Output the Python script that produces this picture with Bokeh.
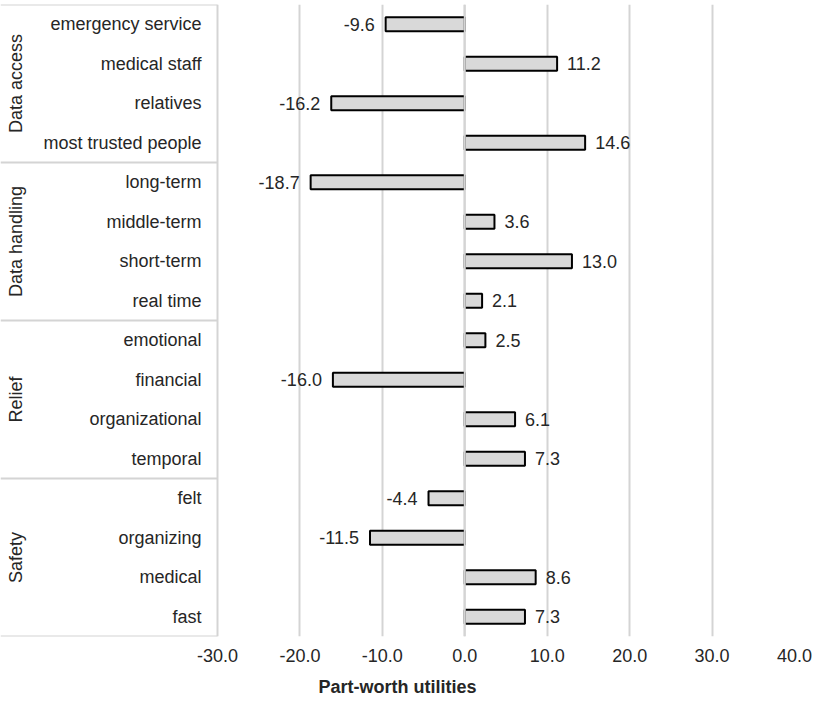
import math
from bokeh.plotting import figure
from bokeh.models import Range1d, FixedTicker, NumeralTickFormatter, ColumnDataSource, Span
from bokeh.core.properties import value
from bokeh.embed import file_html
from bokeh.resources import INLINE

# ---- data ----
groups = ["Data access", "Data handling", "Relief", "Safety"]
levels = [
    "emergency service", "medical staff", "relatives", "most trusted people",
    "long-term", "middle-term", "short-term", "real time",
    "emotional", "financial", "organizational", "temporal",
    "felt", "organizing", "medical", "fast",
]
utilities = [-9.6, 11.2, -16.2, 14.6,
             -18.7, 3.6, 13.0, 2.1,
             2.5, -16.0, 6.1, 7.3,
             -4.4, -11.5, 8.6, 7.3]
level_group = [0]*4 + [1]*4 + [2]*4 + [3]*4
x_ticks = [-30, -20, -10, 0, 10, 20, 30, 40]
x_title = "Part-worth utilities"

FONT = "Liberation Sans"
TXT = "#262626"
GRID = "#d4d4d4"
FS = "18px"

W, H = 813, 699
left_px, right_px = 217, 794          # canvas x of -30 and 40
px_per_unit = (right_px - left_px) / 70.0
x_start = -30 - left_px / px_per_unit

p = figure(width=W, height=H, output_backend="svg", toolbar_location=None,
           x_range=Range1d(x_start, 40), y_range=Range1d(16, 0),
           y_axis_location=None,
           min_border_left=0, min_border_right=W - right_px,
           min_border_top=4, min_border_bottom=61)
p.outline_line_color = None
p.background_fill_color = "white"
p.border_fill_color = "white"

ax = p.xaxis[0]
ax.ticker = FixedTicker(ticks=x_ticks)
ax.formatter = NumeralTickFormatter(format="0.0")
ax.axis_line_color = None
ax.major_tick_line_color = None
ax.minor_tick_line_color = None
ax.major_tick_out = 0
ax.major_tick_in = 0
ax.major_label_text_font = FONT
ax.major_label_text_font_size = FS
ax.major_label_text_color = TXT
ax.major_label_standoff = 12
ax.axis_label = x_title
ax.axis_label_text_font = FONT
ax.axis_label_text_font_size = FS
ax.axis_label_text_font_style = "bold"
ax.axis_label_text_color = TXT
ax.axis_label_standoff = 12

p.xgrid.grid_line_color = GRID
p.xgrid.grid_line_width = 2
p.ygrid.grid_line_color = None

# group separator lines in the label box
n = len(levels)
bounds = sorted(set([0] + [i + 1 for i in range(n - 1) if level_group[i] != level_group[i + 1]] + [n]))
p.segment(x0=[x_start]*len(bounds), x1=[-30]*len(bounds), y0=bounds, y1=bounds,
          line_color=GRID, line_width=2)

ys = [i + 0.5 for i in range(n)]

# bars
p.hbar(y=ys, left=0, right=utilities, height=0.36,
       fill_color="#d9d9d9", line_color="black", line_width=2)
p.add_layout(Span(location=0, dimension="height", line_color=GRID, line_width=2))

# value labels
pos = ColumnDataSource(dict(x=[v for v in utilities if v >= 0],
                            y=[ys[i] for i, v in enumerate(utilities) if v >= 0],
                            t=[f"{v:.1f}" for v in utilities if v >= 0]))
neg = ColumnDataSource(dict(x=[v for v in utilities if v < 0],
                            y=[ys[i] for i, v in enumerate(utilities) if v < 0],
                            t=[f"{v:.1f}" for v in utilities if v < 0]))
p.text(x="x", y="y", text="t", source=pos, x_offset=10, text_align="left",
       text_baseline="middle", text_font=value(FONT), text_font_size=FS, text_color=TXT)
p.text(x="x", y="y", text="t", source=neg, x_offset=-11, text_align="right",
       text_baseline="middle", text_font=value(FONT), text_font_size=FS, text_color=TXT)

# category labels
p.text(x=[-30]*n, y=ys, text=levels, x_offset=-16, text_align="right",
       text_baseline="middle", text_font=value(FONT), text_font_size=FS, text_color=TXT)

# group labels (rotated)
g_y = []
for g in range(len(groups)):
    idx = [i for i in range(n) if level_group[i] == g]
    g_y.append((min(idx) + max(idx) + 1) / 2.0)
p.text(x=[x_start]*len(groups), y=g_y, text=groups, x_offset=15, angle=math.pi/2,
       text_align="center", text_baseline="middle", text_font=value(FONT),
       text_font_size=FS, text_color=TXT)

open("out.html", "w").write(file_html(p, INLINE))
